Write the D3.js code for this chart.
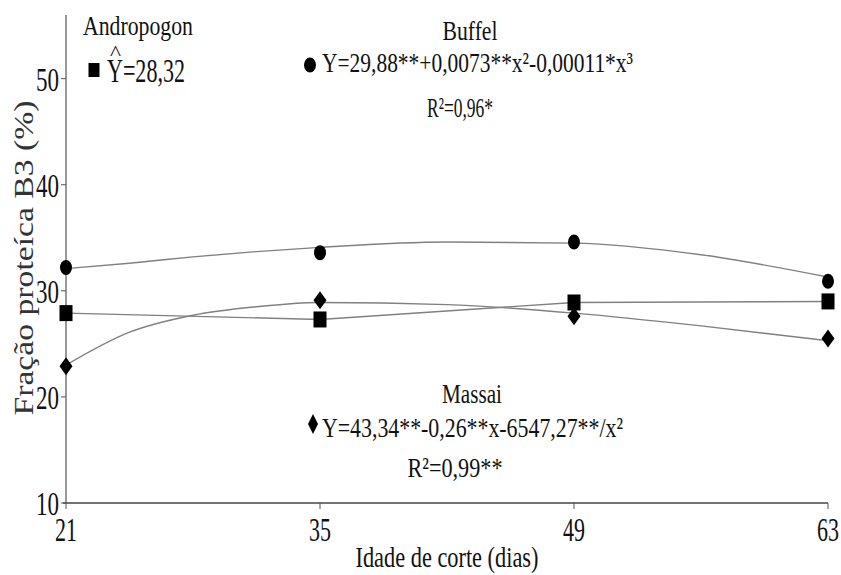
<!DOCTYPE html>
<html>
<head>
<meta charset="utf-8">
<script src="https://cdn.jsdelivr.net/npm/d3@7"></script>
<style>
  body { margin: 0; background: #fff; }
</style>
</head>
<body>
<div id="chart"></div>
<script>
var days = [21, 35, 49, 63];
var buffel = [32.2, 33.6, 34.6, 30.9];
var andropogon = [27.9, 27.3, 28.9, 29.0];
var massai = [22.9, 29.1, 27.6, 25.5];

// fitted curves
var curveDays = [21, 24.5, 28, 31.5, 35, 42, 49, 56, 63];
var buffelFit = [32.1, 32.6, 33.2, 33.7, 34.1, 34.6, 34.5, 33.4, 31.3];
var massaiFit = [23.0, 26.1, 27.7, 28.5, 28.9, 28.7, 27.9, 26.7, 25.3];

var xTicks = [21, 35, 49, 63];
var yTicks = [10, 20, 30, 40, 50];

var width = 841, height = 575;
var margin = {top: 15, left: 66, right: 13, bottom: 72};
var serif = "'Liberation Serif', 'Times New Roman', Times, serif";

var svg = d3.select("#chart")
    .append("svg")
    .attr("width", width)
    .attr("height", height)
    .attr("font-family", serif);

var xScale = d3.scaleLinear()
    .domain([21, 63])
    .range([margin.left, width - margin.right]);

var yScale = d3.scaleLinear()
    .domain([10, 56])
    .range([height - margin.bottom, margin.top]);

// text with fixed width, the figure's font is narrow
function label(x, y, str, size, len, anchor) {
    var t = svg.append("text")
        .attr("x", x)
        .attr("y", y)
        .attr("font-family", serif)
        .attr("font-size", size)
        .attr("fill", "#111")
        .attr("text-anchor", anchor || "start")
        .text(str);
    if (len) t.attr("textLength", len).attr("lengthAdjust", "spacingAndGlyphs");
    return t;
}

// axes
svg.append("line")
    .attr("x1", margin.left).attr("x2", margin.left)
    .attr("y1", yScale(56)).attr("y2", yScale(10))
    .attr("stroke", "#555").attr("stroke-width", 1.2);
svg.append("line")
    .attr("x1", margin.left - 3).attr("x2", xScale(63))
    .attr("y1", yScale(10)).attr("y2", yScale(10))
    .attr("stroke", "#444").attr("stroke-width", 1.3);

yTicks.forEach(function(v) {
    svg.append("line")
        .attr("x1", margin.left - 5).attr("x2", margin.left)
        .attr("y1", yScale(v)).attr("y2", yScale(v))
        .attr("stroke", "#555");
    label(margin.left - 7, yScale(v) + 12, v, 34, 23, "end");
});

xTicks.forEach(function(v) {
    svg.append("line")
        .attr("x1", xScale(v)).attr("x2", xScale(v))
        .attr("y1", yScale(10)).attr("y2", yScale(10) + 6)
        .attr("stroke", "#555");
    label(xScale(v), 541, v, 33, 22, "middle");
});

label(447, 567, "Idade de corte (dias)", 29, 183, "middle");

svg.append("text")
    .attr("transform", "translate(33,258) rotate(-90)")
    .attr("text-anchor", "middle")
    .attr("font-family", serif)
    .attr("font-size", 27)
    .attr("fill", "#333")
    .attr("textLength", 315)
    .attr("lengthAdjust", "spacingAndGlyphs")
    .text("Fração proteíca B3 (%)");

// lines
var line = d3.line()
    .x(function(d) { return xScale(d[0]); })
    .y(function(d) { return yScale(d[1]); })
    .curve(d3.curveMonotoneX);

svg.append("path")
    .attr("d", line(d3.zip(curveDays, buffelFit)))
    .attr("fill", "none").attr("stroke", "#808080").attr("stroke-width", 1.4);

svg.append("path")
    .attr("d", line.curve(d3.curveLinear)(d3.zip(days, andropogon)))
    .attr("fill", "none").attr("stroke", "#808080").attr("stroke-width", 1.4);

svg.append("path")
    .attr("d", line.curve(d3.curveMonotoneX)(d3.zip(curveDays, massaiFit)))
    .attr("fill", "none").attr("stroke", "#808080").attr("stroke-width", 1.4);

// markers
function circleMark(x, y) {
    svg.append("ellipse").attr("cx", x).attr("cy", y).attr("rx", 6).attr("ry", 7.5).attr("fill", "#000");
}
function squareMark(x, y, w, h) {
    svg.append("rect").attr("x", x - w / 2).attr("y", y - h / 2).attr("width", w).attr("height", h).attr("fill", "#000");
}
function diamondMark(x, y, w, h) {
    svg.append("path")
        .attr("d", "M" + x + "," + (y - h / 2) + "L" + (x + w / 2) + "," + y + "L" + x + "," + (y + h / 2) + "L" + (x - w / 2) + "," + y + "Z")
        .attr("fill", "#000");
}

days.forEach(function(d, i) {
    circleMark(xScale(d), yScale(buffel[i]));
    squareMark(xScale(d), yScale(andropogon[i]), 13, 16);
    diamondMark(xScale(d), yScale(massai[i]), 13, 18);
});

// annotations
label(138, 35, "Andropogon", 27, 110, "middle");
squareMark(94, 70, 11, 14);
label(107, 82, "Y=28,32", 33, 78);
label(110, 60, "^", 20, 11);

label(470, 40, "Buffel", 27, 55, "middle");
circleMark(310, 65);
label(322, 72, "Y=29,88**+0,0073**x²-0,00011*x³", 28, 311);
label(460, 117, "R²=0,96*", 28, 66, "middle");

label(472, 403, "Massai", 27, 60, "middle");
diamondMark(313, 424, 10, 20);
label(322, 437, "Y=43,34**-0,26**x-6547,27**/x²", 28, 301);
label(455, 477, "R²=0,99**", 28, 95, "middle");
</script>
</body>
</html>
